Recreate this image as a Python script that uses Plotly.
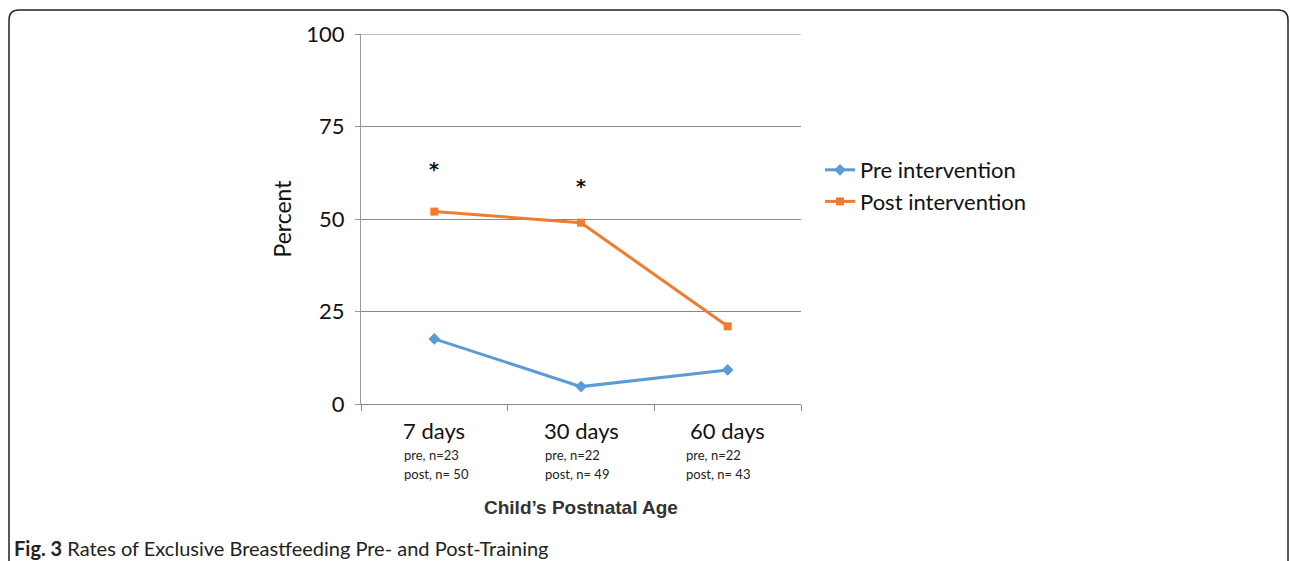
import plotly.graph_objects as go

categories = ["7 days", "30 days", "60 days"]
pre_labels = ["pre, n=23", "pre, n=22", "pre, n=22"]
post_labels = ["post, n= 50", "post, n= 49", "post, n= 43"]
pre_values = [17.6, 4.7, 9.2]
post_values = [52.0, 49.0, 21.0]
star_positions = [0, 1]
star_values = [63.5, 59.0]
y_ticks = [0, 25, 50, 75, 100]

W, H = 1290, 561
L, R, T, B = 361, 801, 34, 404

def px(xp):
    return (xp - L) / (R - L)

def py(yp):
    return (B - yp) / (B - T)

x_idx = list(range(len(categories)))
fig = go.Figure()
fig.add_trace(go.Scatter(x=x_idx, y=pre_values, name="Pre intervention", mode="lines+markers",
                         line=dict(color="#5B9BD5", width=3),
                         marker=dict(symbol="diamond", size=9, color="#5B9BD5")))
fig.add_trace(go.Scatter(x=x_idx, y=post_values, name="Post intervention", mode="lines+markers",
                         line=dict(color="#ED7D31", width=3),
                         marker=dict(symbol="square", size=8, color="#ED7D31")))

annotations = []
for i, c in enumerate(categories):
    annotations.append(dict(x=i, y=py(430), xref="x", yref="paper", text=c, showarrow=False,
                            font=dict(family="Lato", size=22, color="#111"), xanchor="center", yanchor="middle"))
    annotations.append(dict(x=i, y=py(455), xref="x", yref="paper", text=pre_labels[i], showarrow=False,
                            font=dict(family="Lato", size=13, color="#222"), xanchor="left", yanchor="middle",
                            xshift=-32 - 6 * i))
    annotations.append(dict(x=i, y=py(474), xref="x", yref="paper", text=post_labels[i], showarrow=False,
                            font=dict(family="Lato", size=13, color="#222"), xanchor="left", yanchor="middle",
                            xshift=-32 - 6 * i))
for xs, ys in zip(star_positions, star_values):
    annotations.append(dict(x=xs, y=ys, xref="x", yref="y", text="<b>*</b>", showarrow=False,
                            font=dict(family="DejaVu Sans", size=19, color="#111"),
                            xanchor="center", yanchor="middle"))
annotations.append(dict(x=0.5, y=py(507), xref="paper", yref="paper", text="<b>Child’s Postnatal Age</b>",
                        showarrow=False, font=dict(family="Liberation Sans", size=19, color="#333"),
                        xanchor="center", yanchor="middle"))
annotations.append(dict(x=px(12), y=py(548), xref="paper", yref="paper", xanchor="left", yanchor="middle",
                        text="<b>Fig. 3</b> Rates of Exclusive Breastfeeding Pre- and Post-Training",
                        showarrow=False, font=dict(family="Lato", size=20, color="#222")))

# rounded frame
r = 10
x0, x1, y0, yb = 9, 1288, 10, 575
path = (f"M {px(x0)},{py(yb)} L {px(x0)},{py(y0 + r)} Q {px(x0)},{py(y0)} {px(x0 + r)},{py(y0)} "
        f"L {px(x1 - r)},{py(y0)} Q {px(x1)},{py(y0)} {px(x1)},{py(y0 + r)} L {px(x1)},{py(yb)}")
shapes = [dict(type="path", xref="paper", yref="paper", path=path, line=dict(color="#222", width=1.5)),
          dict(type="line", xref="paper", yref="y", x0=0, x1=1, y0=100, y1=100,
               line=dict(color="#888", width=1))]

fig.update_layout(
    width=W, height=H,
    margin=dict(l=L, r=W - R, t=T, b=H - B),
    paper_bgcolor="white", plot_bgcolor="white",
    showlegend=True,
    legend=dict(x=px(820), y=py(149), xanchor="left", yanchor="top",
                font=dict(family="Lato", size=22, color="#111"), tracegroupgap=0,
                itemwidth=30),
    annotations=annotations, shapes=shapes,
    yaxis=dict(title=dict(text="Percent", font=dict(family="Lato", size=23, color="#111"), standoff=8),
               range=[0, 100], tickvals=y_ticks, showgrid=True, gridcolor="#888", gridwidth=1,
               showline=True, linecolor="#999", linewidth=1, ticks="outside", ticklen=5, tickcolor="#999",
               ticklabelstandoff=6,
               tickfont=dict(family="Lato", size=22, color="#111"), zeroline=False),
    xaxis=dict(range=[-0.5, 2.5], tickvals=[-0.5, 0.5, 1.5, 2.5], ticktext=["", "", "", ""],
               showgrid=False, showline=True, linecolor="#888", linewidth=1, ticks="outside",
               ticklen=6, tickcolor="#888", zeroline=False),
)
fig.write_html("out.html", config={"displayModeBar": False},
               post_script="document.body.style.margin='0px';")
